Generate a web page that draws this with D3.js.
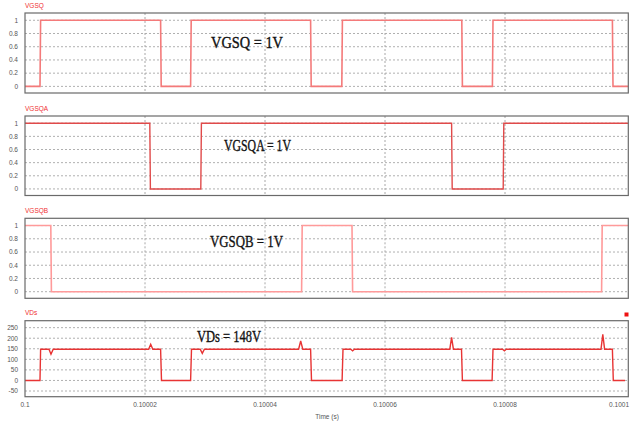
<!DOCTYPE html>
<html><head><meta charset="utf-8">
<script src="https://cdn.jsdelivr.net/npm/d3@7"></script>
<style>body{margin:0;background:#fff;}svg{display:block;}</style>
</head><body>
<script>
// time offsets in microseconds after t = 0.1 s
const xTickVals = [0, 20, 40, 60, 80, 100];
const xTickLabels = ["0.1", "0.10002", "0.10004", "0.10006", "0.10008", "0.1001"];
const gateTicks = [0, 0.2, 0.4, 0.6, 0.8, 1];
const gateTickLabels = ["0", "0.2", "0.4", "0.6", "0.8", "1"];
const vdsTicks = [-50, 0, 50, 100, 150, 200, 250];

const vgsqT = [0, 2.5, 2.6, 22.6, 22.7, 27.6, 27.7, 47.6, 47.7, 52.8, 52.9, 72.8, 72.9, 77.9, 78.0, 97.9, 98.0, 100.55];
const vgsqV = [0, 0, 1, 1, 0, 0, 1, 1, 0, 0, 1, 1, 0, 0, 1, 1, 0, 0];
const vgsqaT = [0, 20.8, 20.9, 29.3, 29.4, 71.1, 71.2, 79.7, 79.8, 100.55];
const vgsqaV = [1, 1, 0, 0, 1, 1, 0, 0, 1, 1];
const vgsqbT = [0, 4.3, 4.4, 46.1, 46.2, 54.5, 54.6, 96.1, 96.2, 100.55];
const vgsqbV = [1, 1, 0, 0, 1, 1, 0, 0, 1, 1];
const vdsT = [0, 2.5, 2.6, 4.0, 4.33, 4.7, 20.6, 20.95, 21.3, 22.6, 22.75, 27.6, 27.75, 29.2, 29.55, 29.9,
  45.6, 45.95, 46.3, 47.6, 47.75, 52.85, 53.0, 54.3, 54.6, 54.9, 70.8, 71.1, 71.4, 72.75, 72.9,
  77.85, 78.0, 79.6, 79.9, 80.2, 96.0, 96.3, 96.6, 97.9, 98.05, 100.0];
const vdsV = [0, 0, 148, 148, 124, 148, 148, 171, 148, 148, 0, 0, 148, 148, 128, 148,
  148, 187, 148, 148, 0, 0, 148, 148, 140, 148, 148, 204, 148, 148, 0,
  0, 148, 148, 140, 148, 148, 218, 148, 148, 0, 0];

const titles = ["VGSQ", "VGSQA", "VGSQB", "VDs"];
const notes = ["VGSQ = 1V", "VGSQA = 1V", "VGSQB = 1V", "VDs = 148V"];

const W = 630, H = 423;
const svg = d3.select("body").append("svg").attr("width", W).attr("height", H);
const x = d3.scaleLinear().domain([0, 100.55]).range([25, 628.3]);

const panels = [
  {top: 13, h: 80, dom: [-0.1, 1.11], ticks: gateTicks, labels: gateTickLabels, t: vgsqT, v: vgsqV, color: "#f47a7a", width: 1.6,
   note: {x: 211, y: 47.5, len: 72}},
  {top: 116, h: 79.5, dom: [-0.1, 1.11], ticks: gateTicks, labels: gateTickLabels, t: vgsqaT, v: vgsqaV, color: "#e04a4a", width: 1.4,
   note: {x: 224, y: 150.7, len: 67}},
  {top: 218.3, h: 80, dom: [-0.1, 1.11], ticks: gateTicks, labels: gateTickLabels, t: vgsqbT, v: vgsqbV, color: "#ff9a9a", width: 1.6,
   note: {x: 210, y: 246.7, len: 73}},
  {top: 320.7, h: 76, dom: [-77, 283], ticks: vdsTicks, labels: vdsTicks.map(String), t: vdsT, v: vdsV, color: "#e83434", width: 1.4,
   note: {x: 197, y: 342.3, len: 64}}
];

panels.forEach((p, i) => {
  const y = d3.scaleLinear().domain(p.dom).range([p.top + p.h, p.top]);
  const g = svg.append("g");
  g.selectAll("line.hg").data(p.ticks).join("line")
    .attr("x1", x.range()[0]).attr("x2", x.range()[1])
    .attr("y1", d => y(d)).attr("y2", d => y(d))
    .attr("stroke", "#b0b0b0").attr("stroke-width", 1).attr("stroke-dasharray", "2,2");
  g.selectAll("line.vg").data(xTickVals.slice(1, -1)).join("line")
    .attr("x1", d => x(d)).attr("x2", d => x(d))
    .attr("y1", p.top).attr("y2", p.top + p.h)
    .attr("stroke", "#a8a8a8").attr("stroke-width", 1).attr("stroke-dasharray", "2,2");
  g.selectAll("text.yl").data(p.ticks).join("text")
    .attr("x", 18).attr("y", d => y(d) + 2.3)
    .attr("text-anchor", "end").attr("font-family", "Liberation Sans, Arial, sans-serif")
    .attr("font-size", 6.5).attr("fill", "#555")
    .text((d, k) => p.labels[k]);
  g.append("text").attr("x", 25).attr("y", p.top - 5.5)
    .attr("font-family", "Liberation Sans, Arial, sans-serif").attr("font-size", 6.5)
    .attr("fill", "#f03030").text(titles[i]);
  const pts = p.t.map((t, k) => [t, p.v[k]]);
  g.append("path").datum(pts)
    .attr("d", d3.line().x(d => x(d[0])).y(d => y(d[1])))
    .attr("fill", "none").attr("stroke", p.color).attr("stroke-width", p.width);
  g.append("rect").attr("x", x.range()[0]).attr("y", p.top)
    .attr("width", x.range()[1] - x.range()[0]).attr("height", p.h)
    .attr("fill", "none").attr("stroke", "#6a6a6a").attr("stroke-width", 1.2);
  g.append("text").attr("x", p.note.x).attr("y", p.note.y)
    .attr("font-family", "Liberation Serif, Times New Roman, serif").attr("font-size", 16.5)
    .attr("fill", "#111").attr("stroke", "#111").attr("stroke-width", 0.35)
    .attr("textLength", p.note.len).attr("lengthAdjust", "spacingAndGlyphs")
    .text(notes[i]);
});

svg.selectAll("text.xl").data(xTickVals).join("text")
  .attr("x", d => x(d)).attr("y", 407)
  .attr("text-anchor", (d, k) => k === xTickVals.length - 1 ? "end" : "middle")
  .attr("dx", (d, k) => k === xTickVals.length - 1 ? 4 : 0)
  .attr("font-family", "Liberation Sans, Arial, sans-serif").attr("font-size", 6.5).attr("fill", "#555")
  .text((d, k) => xTickLabels[k]);
svg.append("text").attr("x", 327).attr("y", 419).attr("text-anchor", "middle")
  .attr("font-family", "Liberation Sans, Arial, sans-serif").attr("font-size", 6.5).attr("fill", "#555")
  .text("Time (s)");
svg.append("rect").attr("x", 624.5).attr("y", 312.5).attr("width", 4).attr("height", 4).attr("fill", "#ee1111");
</script>
</body></html>
